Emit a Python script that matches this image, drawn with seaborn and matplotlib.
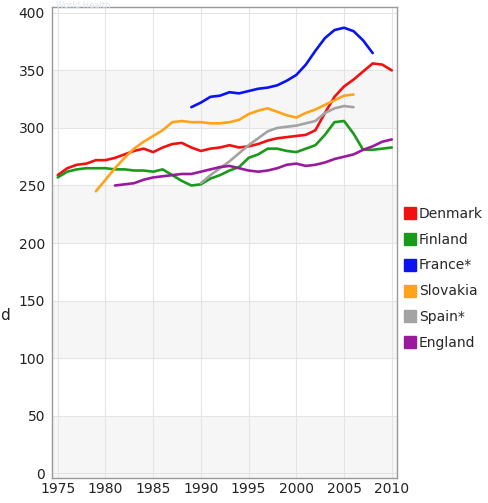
import pandas as pd
import matplotlib
matplotlib.use('Agg')
import matplotlib.pyplot as plt
import seaborn as sns

# values
years_denmark  = list(range(1975, 2011))
denmark        = [259, 265, 268, 269, 272, 272, 274, 277, 280, 282, 279, 283, 286, 287, 283, 280, 282, 283,
                  285, 283, 284, 286, 289, 291, 292, 293, 294, 298, 313, 327, 336, 342, 349, 356, 355, 350]
years_finland  = list(range(1975, 2011))
finland        = [257, 262, 264, 265, 265, 265, 264, 264, 263, 263, 262, 264, 259, 254, 250, 251, 256, 259,
                  263, 266, 274, 277, 282, 282, 280, 279, 282, 285, 294, 305, 306, 295, 281, 281, 282, 283]
years_france   = list(range(1989, 2009))
france         = [318, 322, 327, 328, 331, 330, 332, 334, 335, 337, 341, 346, 355, 367, 378, 385, 387, 384, 376, 365]
years_slovakia = list(range(1979, 2007))
slovakia       = [245, 255, 265, 274, 282, 288, 293, 298, 305, 306, 305, 305, 304, 304, 305, 307, 312, 315,
                  317, 314, 311, 309, 313, 316, 320, 324, 328, 329]
years_spain    = list(range(1990, 2007))
spain          = [252, 259, 265, 271, 278, 285, 291, 297, 300, 301, 302, 304, 306, 313, 317, 319, 318]
years_england  = list(range(1981, 2011))
england        = [250, 251, 252, 255, 257, 258, 259, 260, 260, 262, 264, 266, 267, 265, 263, 262, 263, 265,
                  268, 269, 267, 268, 270, 273, 275, 277, 281, 284, 288, 290]

countries = ['Denmark', 'Finland', 'France*', 'Slovakia', 'Spain*', 'England']
colors    = ['#f21010', '#1a9a1a', '#0a14f0', '#ffa31a', '#a3a3a3', '#9a1a9e']

frames = []
for name, yrs, vals in zip(countries,
                           [years_denmark, years_finland, years_france, years_slovakia, years_spain, years_england],
                           [denmark, finland, france, slovakia, spain, england]):
    frames.append(pd.DataFrame({'year': yrs, 'value': vals, 'country': name}))
df = pd.concat(frames, ignore_index=True)

sns.set_style('white')
plt.rcParams['font.family'] = ['DejaVu Sans']

fig = plt.figure(figsize=(4.88, 5.03), dpi=100)
ax = fig.add_axes([52 / 488, 1 - 478 / 503, 345 / 488, 471 / 503])

# alternating background bands
for lo in range(0, 400, 100):
    ax.axhspan(lo, lo + 50, color='#f6f6f6', zorder=0, lw=0)
ax.axhspan(-10, 0, color='#f6f6f6', zorder=0, lw=0)

sns.lineplot(data=df, x='year', y='value', hue='country', palette=colors,
             hue_order=countries, linewidth=1.9, ax=ax, legend=False, zorder=3)

ax.set_xlim(1974.4, 2010.55)
ax.set_ylim(-4, 405)
ax.set_xticks(range(1975, 2011, 5))
ax.set_yticks(range(0, 401, 50))
ax.grid(True, color='#e4e4e4', lw=0.8, zorder=1)
ax.set_axisbelow(True)
ax.set_xlabel('')
ax.set_ylabel('')
ax.tick_params(axis='both', labelsize=10, colors='#222222', length=3, width=0.8, pad=2)
ax.tick_params(axis='y', color='#888888')
ax.tick_params(axis='x', length=0, pad=3)
for s in ax.spines.values():
    s.set_color('#999999')
    s.set_linewidth(1.0)

# legend outside on the right
handles = [plt.Line2D([], [], marker='s', ls='', color=c, markersize=8) for c in colors]
fig.legend(handles, countries, loc='upper left', bbox_to_anchor=(396 / 488, 1 - 201 / 503),
           frameon=False, fontsize=10, handletextpad=0.05, labelspacing=0.86,
           handlelength=1.2, borderaxespad=0)

fig.text(0.0, 1 - 315 / 503, 'd', fontsize=11, va='center', ha='left', color='#222222')
fig.text(56 / 488, 1 - 5 / 503, 'World Health', fontsize=6, color='#dfe6ef', va='center')

fig.savefig('out.png', dpi=100)
